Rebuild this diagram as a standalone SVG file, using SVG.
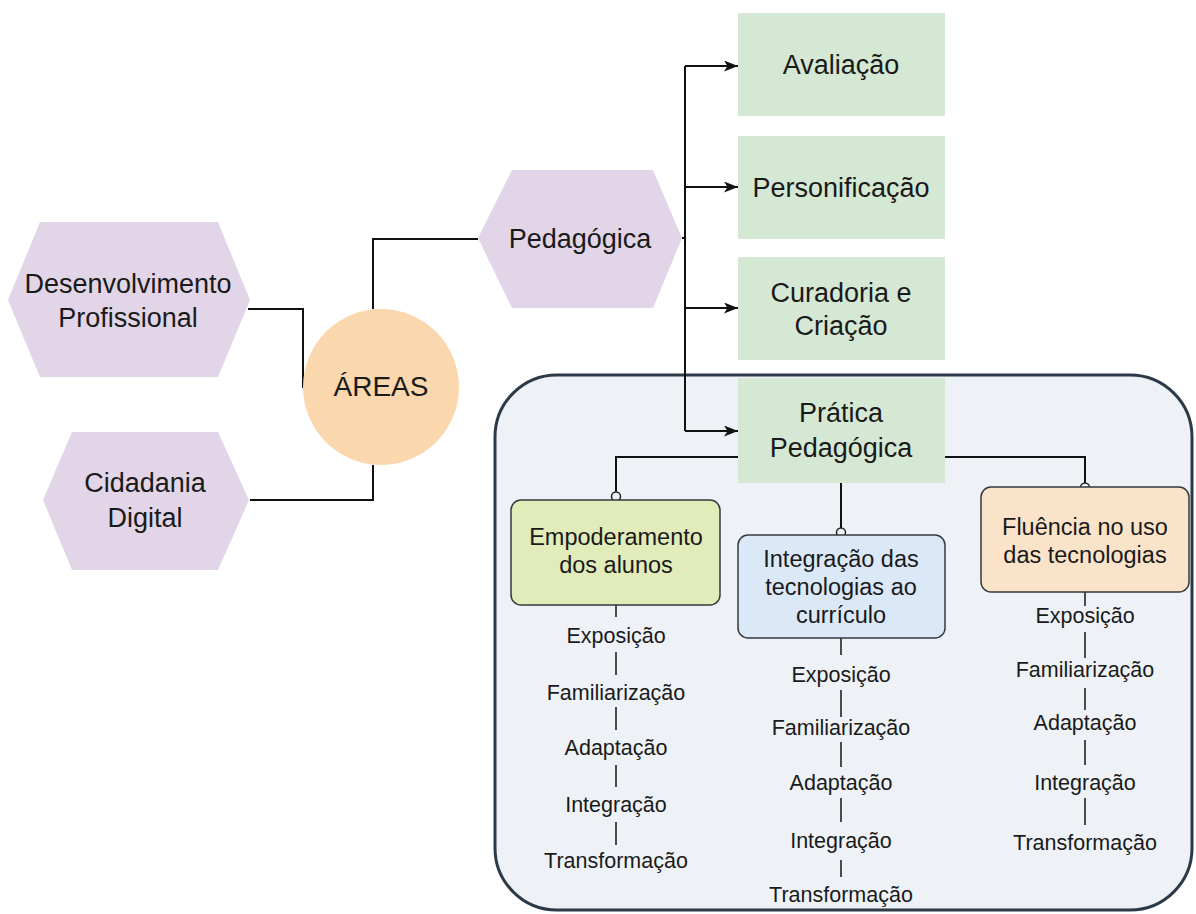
<svg xmlns="http://www.w3.org/2000/svg" width="1196" height="914" viewBox="0 0 1196 914">
<defs>
<style>
.hex{fill:#e1d5e7;stroke:none}
.gbox{fill:#d5e8d4;stroke:none}
.t{font-family:"Liberation Sans",Arial,sans-serif;fill:#1a1a1a;text-anchor:middle}
.big{font-size:27px}
.box{font-size:23.5px}
.lst{font-size:21.5px}
.ln{fill:none;stroke:#111;stroke-width:2}
.tick{fill:none;stroke:#222;stroke-width:1.6}
.mk{fill:none;stroke:#222;stroke-width:1.5}
.rb{stroke:#36393d;stroke-width:1.5}
</style>
<marker id="arr" viewBox="0 0 14 11" refX="14" refY="5.5" markerWidth="14" markerHeight="11" markerUnits="userSpaceOnUse" orient="auto">
<path d="M0,0 L14,5.5 L0,11 L3.5,5.5 z" fill="#111"/>
</marker>
</defs>
<rect width="1196" height="914" fill="#ffffff"/>

<g id="container">
<rect x="495" y="375" width="697" height="535" rx="62" ry="62" fill="#eef2f7" stroke="#2c3a48" stroke-width="3"/>
</g>

<g id="connectors">
<path class="ln" d="M248,309 H303 V388"/>
<path class="ln" d="M250,500 H373 V465"/>
<path class="ln" d="M373,309 V239 H478"/>
<path class="ln" d="M682,238 H685"/>
<path class="ln" d="M685,66 V431"/>
<path class="ln" d="M685,66 H738" marker-end="url(#arr)"/>
<path class="ln" d="M685,187 H738" marker-end="url(#arr)"/>
<path class="ln" d="M685,308 H738" marker-end="url(#arr)"/>
<path class="ln" d="M685,431 H738" marker-end="url(#arr)"/>
<path class="ln" d="M738,457 H616 V492"/>
<circle class="mk" cx="616" cy="496.5" r="4.5"/>
<path class="ln" d="M841,483 V528"/>
<circle class="mk" cx="841" cy="532.5" r="4.5"/>
<path class="ln" d="M945,457 H1085 V483"/>
<circle class="mk" cx="1085" cy="487.5" r="4.5"/>
<path class="tick" d="M616,605 V617 M616,652 V675 M616,707 V730 M616,765 V787 M616,822 V845"/>
<path class="tick" d="M841,638 V655 M841,690 V717 M841,742 V767 M841,798 V822 M841,860 V877"/>
<path class="tick" d="M1085,592 V606 M1085,632 V658 M1085,688 V710 M1085,740 V765 M1085,798 V825"/>
</g>

<g id="desenvolvimento">
<polygon class="hex" points="8,300 40,222 218,222 250,300 218,377 40,377"/>
<text class="t big" x="128" y="293">Desenvolvimento</text>
<text class="t big" x="128" y="327">Profissional</text>
</g>

<g id="cidadania">
<polygon class="hex" points="43,500 72,432 218,432 249,500 218,570 72,570"/>
<text class="t big" x="145" y="492">Cidadania</text>
<text class="t big" x="145" y="527">Digital</text>
</g>

<g id="areas">
<circle cx="381" cy="387" r="78" fill="#fad7ac"/>
<text class="t" x="381" y="396" style="font-size:28px">ÁREAS</text>
</g>

<g id="pedagogica">
<polygon class="hex" points="478,238 512,170 653,170 682,238 653,308 512,308"/>
<text class="t big" x="580" y="248">Pedagógica</text>
</g>

<g id="avaliacao">
<rect class="gbox" x="738" y="13" width="207" height="103"/>
<text class="t big" x="841" y="74">Avaliação</text>
</g>

<g id="personificacao">
<rect class="gbox" x="738" y="136" width="207" height="103"/>
<text class="t big" x="841" y="197">Personificação</text>
</g>

<g id="curadoria">
<rect class="gbox" x="738" y="257" width="207" height="103"/>
<text class="t big" x="841" y="302">Curadoria e</text>
<text class="t big" x="841" y="335">Criação</text>
</g>

<g id="pratica">
<rect class="gbox" x="738" y="378" width="207" height="105"/>
<text class="t big" x="841" y="422">Prática</text>
<text class="t big" x="841" y="457">Pedagógica</text>
</g>

<g id="empoderamento">
<rect class="rb" x="511" y="500" width="209" height="105" rx="10" fill="#e2ecba"/>
<text class="t box" x="616" y="545">Empoderamento</text>
<text class="t box" x="616" y="573">dos alunos</text>
<g class="t lst">
<text x="616" y="643">Exposição</text>
<text x="616" y="700">Familiarização</text>
<text x="616" y="755">Adaptação</text>
<text x="616" y="812">Integração</text>
<text x="616" y="868">Transformação</text>
</g>
</g>

<g id="integracao">
<rect class="rb" x="738" y="535" width="207" height="103" rx="10" fill="#dbe8f8"/>
<text class="t box" x="841" y="567">Integração das</text>
<text class="t box" x="841" y="595">tecnologias ao</text>
<text class="t box" x="841" y="623">currículo</text>
<g class="t lst">
<text x="841" y="682">Exposição</text>
<text x="841" y="735">Familiarização</text>
<text x="841" y="790">Adaptação</text>
<text x="841" y="848">Integração</text>
<text x="841" y="902">Transformação</text>
</g>
</g>

<g id="fluencia">
<rect class="rb" x="981" y="487" width="208" height="105" rx="10" fill="#fbe3c9"/>
<text class="t box" x="1085" y="535">Fluência no uso</text>
<text class="t box" x="1085" y="563">das tecnologias</text>
<g class="t lst">
<text x="1085" y="623">Exposição</text>
<text x="1085" y="677">Familiarização</text>
<text x="1085" y="730">Adaptação</text>
<text x="1085" y="790">Integração</text>
<text x="1085" y="850">Transformação</text>
</g>
</g>
</svg>
